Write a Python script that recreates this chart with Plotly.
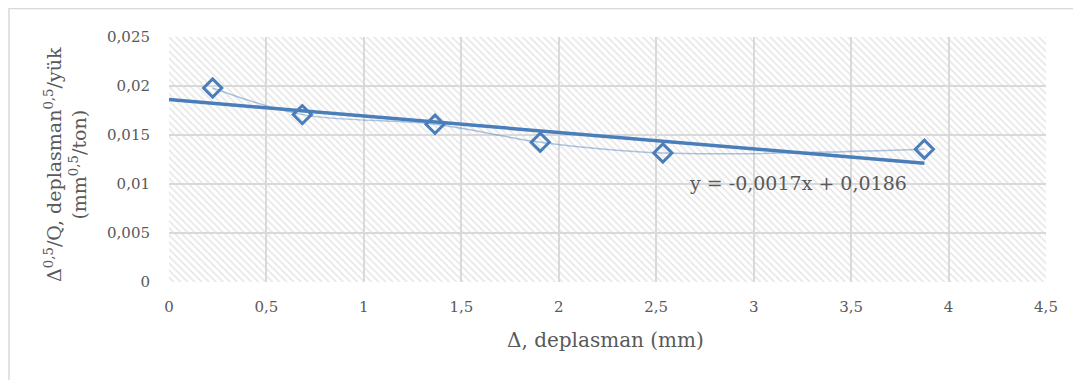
import numpy as np
import plotly.graph_objects as go

# data
x_disp = [0.224, 0.684, 1.365, 1.905, 2.534, 3.876]
y_ratio = [0.0198, 0.01708, 0.0161, 0.01426, 0.01316, 0.01354]
x_ticks = [0, 0.5, 1, 1.5, 2, 2.5, 3, 3.5, 4, 4.5]
x_tick_text = ["0", "0,5", "1", "1,5", "2", "2,5", "3", "3,5", "4", "4,5"]
y_ticks = [0, 0.005, 0.01, 0.015, 0.02, 0.025]
y_tick_text = ["0", "0,005", "0,01", "0,015", "0,02", "0,025"]
x_range = [0, 4.5]
y_range = [0, 0.025]

slope, intercept = np.polyfit(x_disp, y_ratio, 1)
trend_x = [0, max(x_disp)]
trend_y = [intercept + slope * v for v in trend_x]
eq_text = "y = {:.4f}x + {:.4f}".format(slope, intercept).replace(".", ",")

blue = "#4a7ebb"
grey_text = "#595959"
font_serif = "DejaVu Serif"

fig = go.Figure()

# hatched plot-area background (on the hidden primary axes, below the grid)
fig.add_trace(go.Scatter(
    x=[x_range[0], x_range[1], x_range[1], x_range[0], x_range[0]],
    y=[y_range[0], y_range[0], y_range[1], y_range[1], y_range[0]],
    mode="none", fill="toself", fillcolor="rgba(0,0,0,0)",
    fillpattern=dict(shape="\\", fgcolor="#cccccc", bgcolor="white", size=5, solidity=0.3),
    hoverinfo="skip", showlegend=False, xaxis="x", yaxis="y",
))

# data series (smoothed thin line with open diamonds)
fig.add_trace(go.Scatter(
    x=x_disp, y=y_ratio, mode="lines",
    line=dict(color="rgba(74,126,187,0.45)", width=1.5, shape="spline"),
    showlegend=False, xaxis="x2", yaxis="y2",
))

# linear trend
fig.add_trace(go.Scatter(
    x=trend_x, y=trend_y, mode="lines",
    line=dict(color=blue, width=3.5), showlegend=False, xaxis="x2", yaxis="y2",
))

fig.add_trace(go.Scatter(
    x=x_disp, y=y_ratio, mode="markers",
    marker=dict(symbol="diamond-open", size=14, color=blue, line=dict(width=3, color=blue)),
    showlegend=False, xaxis="x2", yaxis="y2",
))

fig.add_annotation(
    x=2.66, y=0.0101, xref="x2", yref="y2", xanchor="left", yanchor="middle",
    text=eq_text, showarrow=False,
    font=dict(family=font_serif, size=19, color=grey_text),
)

# axis titles (plot area in page pixels: x 169..1046, y 37..282)
fig.add_annotation(
    x=0.498, y=-0.237, xref="paper", yref="paper", xanchor="center", yanchor="middle",
    text="Δ, deplasman (mm)", showarrow=False,
    font=dict(family=font_serif, size=20, color=grey_text),
)
fig.add_annotation(
    x=-0.1174, y=0.478, xref="paper", yref="paper", xanchor="center", yanchor="middle",
    text="Δ<sup>0,5</sup>/Q, deplasman<sup>0,5</sup>/yük<br>(mm<sup>0,5</sup>/ton)",
    textangle=-90, showarrow=False,
    font=dict(family=font_serif, size=19, color=grey_text),
)

# outer chart border
fig.add_shape(type="rect", xref="paper", yref="paper",
              x0=-160 / 877, x1=1 + 100 / 877, y0=-200 / 245, y1=1 + 28.5 / 245,
              line=dict(color="#d9d9d9", width=1.5), fillcolor="rgba(0,0,0,0)", layer="below")

hidden = dict(showgrid=False, zeroline=False, showline=False,
              showticklabels=False, ticks="")
axis_common = dict(
    showgrid=True, gridcolor="#d9d9d9", gridwidth=1.5,
    zeroline=False, showline=False, ticks="",
    tickfont=dict(family=font_serif, size=15, color=grey_text),
)

fig.update_layout(
    width=1081, height=380,
    margin=dict(l=161, r=43, t=29, b=106),
    paper_bgcolor="white", plot_bgcolor="rgba(0,0,0,0)",
    xaxis=dict(hidden, range=x_range, domain=[0, 1]),
    yaxis=dict(hidden, range=y_range, domain=[0, 1]),
    xaxis2=dict(range=x_range, tickvals=x_ticks, ticktext=x_tick_text, anchor="y2",
                domain=[0, 1], ticklabelstandoff=14, **axis_common),
    yaxis2=dict(range=y_range, tickvals=y_ticks, ticktext=y_tick_text, anchor="x2",
                domain=[0, 1], ticklabelstandoff=18, **axis_common),
)

fig.write_html("out.html")
